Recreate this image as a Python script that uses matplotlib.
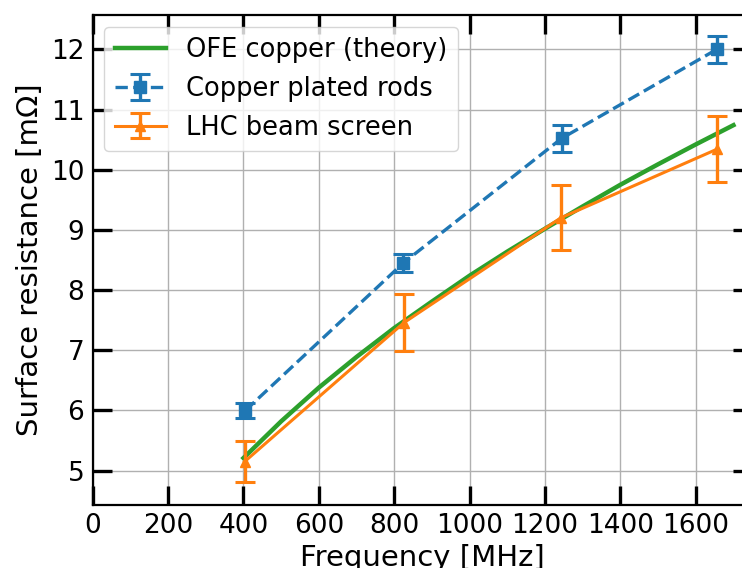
import matplotlib
matplotlib.use("Agg")
import matplotlib.pyplot as plt

# Theory curve (OFE copper)
theory_freq = [400, 500, 600, 700, 800, 900, 1000, 1100, 1200, 1300, 1400, 1500, 1600, 1700]
theory_rs = [5.21, 5.82, 6.38, 6.89, 7.37, 7.81, 8.24, 8.64, 9.02, 9.39, 9.75, 10.09, 10.42, 10.74]

# Copper plated rods
rods_freq = [405, 824, 1244, 1656]
rods_rs = [6.00, 8.45, 10.52, 12.00]
rods_err = [0.13, 0.15, 0.22, 0.22]

# LHC beam screen
lhc_freq = [403, 826, 1242, 1656]
lhc_rs = [5.15, 7.46, 9.20, 10.34]
lhc_err = [0.34, 0.48, 0.54, 0.55]

fig = plt.figure(figsize=(7.42, 5.68), dpi=100)
ax = fig.add_axes([92.7 / 742, 1 - 505 / 568, (752.3 - 92.7) / 742, (505 - 15) / 568])

ax.plot(theory_freq, theory_rs, color="#2ca02c", lw=3.2, label="OFE copper (theory)", zorder=3)
ax.errorbar(rods_freq, rods_rs, yerr=rods_err, fmt="s--", color="#1f77b4", lw=2.4,
            markersize=8, capsize=7, capthick=2.2, elinewidth=2.4, label="Copper plated rods", zorder=4)
ax.errorbar(lhc_freq, lhc_rs, yerr=lhc_err, fmt="^-", color="#ff7f0e", lw=2.2,
            markersize=7.5, capsize=7, capthick=2.2, elinewidth=2.4, label="LHC beam screen", zorder=5)

ax.set_xlim(0, 1750)
ax.set_ylim(4.43, 12.57)
ax.set_xticks([0, 200, 400, 600, 800, 1000, 1200, 1400, 1600])
ax.set_yticks([5, 6, 7, 8, 9, 10, 11, 12])
ax.grid(True, color="#b0b0b0", lw=1)
ax.set_axisbelow(True)

ax.tick_params(direction="in", length=13.5, width=2.4, top=True, right=True,
               labelsize=19, pad=6)
for s in ax.spines.values():
    s.set_linewidth(1.6)

ax.set_xlabel("Frequency [MHz]", fontsize=21, labelpad=3)
ax.set_ylabel("Surface resistance [mΩ]", fontsize=21, labelpad=5)

ax.legend(loc="upper left", fontsize=18.5, borderaxespad=0.45, handlelength=2.0)

fig.savefig("out.png", dpi=100)
